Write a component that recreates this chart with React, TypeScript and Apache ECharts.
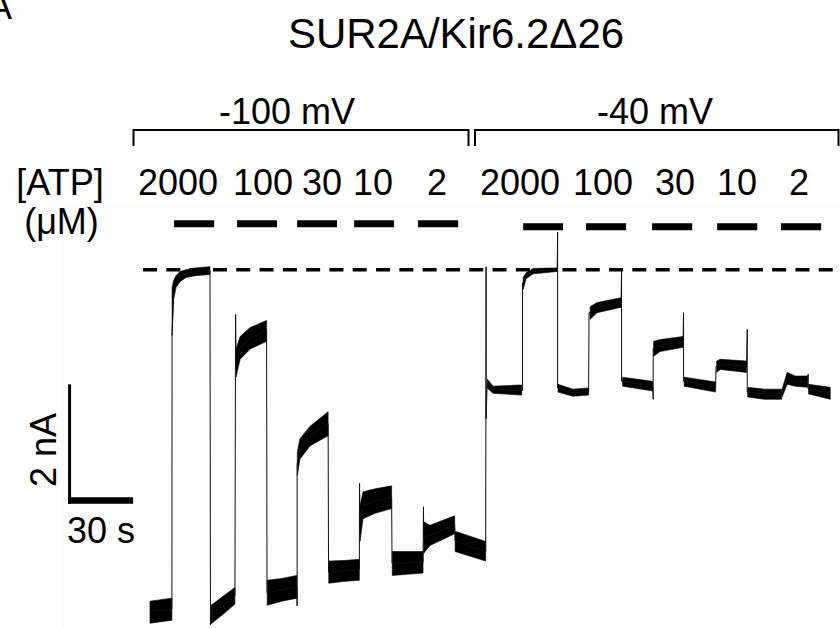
import React, { useEffect, useRef } from "react";
import * as echarts from "echarts";

const FONT = '"Liberation Sans", Arial, Helvetica, sans-serif';

const panelLabel = "A";
const chartTitle = "SUR2A/Kir6.2Δ26";
const voltageLabels = ["-100 mV", "-40 mV"];
const atpHeader = ["[ATP]", "(μM)"];
const atpLabels = ["2000", "100", "30", "10", "2"];
const scaleBarLabels = ["2 nA", "30 s"];

// axes (time in s, current in nA)
const timeRange = [-36, 323];
const currentRange = [-6, 1.1];

// ATP application periods: [start s, end s, marker level nA]
const atpPeriods: [number, number, number][] = [
  [15.7, 34.2, 0.77], [44.8, 63.2, 0.77], [72.5, 90.9, 0.77], [98.8, 117.2, 0.77], [128.3, 146.8, 0.77],
  [176.8, 195.2, 0.72], [205.8, 224.3, 0.72], [236.3, 254.8, 0.72], [266.3, 284.8, 0.72], [295.8, 314.3, 0.72],
];

// zero-current (full block) reference
const blockLevel = 0;
const blockSpan = [1.4, 320.8];

// scale bar: size [s, nA] and origin [s, nA]
const scaleBarSize = [30, 2];
const scaleBarOrigin = [-33.2, -3.92];

// mean current trace [t (s), I (nA)]
const trace: [number, number][] = [
  [4.6, -5.72], [14.7, -5.68], [14.8, -5.68], [14.8, -1.05], [15.5, -0.34], [16.6, -0.2], [18.5, -0.12],
  [21.2, -0.07], [25.4, -0.03], [32.3, -0.02], [32.5, -0.02], [32.5, -5.95], [32.8, -5.78], [38.3, -5.62],
  [43.8, -5.46], [44.1, -5.46], [44.1, -0.75], [44.3, -1.56], [46.2, -1.31], [50.8, -1.15], [58.4, -1.02],
  [58.6, -1.02], [58.6, -5.41], [65.5, -5.36], [72.4, -5.31], [72.5, -5.31], [72.5, -5.63], [72.5, -3.25],
  [72.6, -3.25], [73.8, -3.0], [78.5, -2.78], [86.8, -2.58], [87.0, -2.58], [87.0, -5.07], [94.0, -5.05],
  [101.2, -5.02], [101.3, -5.02], [101.3, -3.58], [101.5, -4.25], [102.9, -3.95], [108.5, -3.87],
  [116.1, -3.81], [116.3, -3.81], [116.3, -4.92], [123.5, -4.91], [130.6, -4.9], [130.8, -4.9],
  [130.8, -3.97], [130.9, -4.48], [133.8, -4.45], [145.2, -4.27], [145.4, -4.55], [159.5, -4.72],
  [159.7, -4.72], [159.7, 0.05], [159.7, -2.5], [160.2, -1.9], [162.9, -2.01], [176.1, -2.02],
  [176.5, -2.02], [176.5, -0.22], [176.8, -0.23], [178.2, -0.1], [181.4, -0.03], [192.5, 0], [192.7, 0],
  [192.7, 0.63], [192.7, -1.98], [192.9, -1.98], [199.8, -2.06], [207.0, -2.04], [207.2, -2.04],
  [207.2, -0.72], [207.7, -0.72], [210.9, -0.63], [222.0, -0.55], [222.2, -0.55], [222.2, 0],
  [222.2, -1.87], [222.7, -1.87], [236.5, -1.95], [236.8, -1.95], [236.8, -2.17], [236.8, -1.32],
  [237.0, -1.32], [240.0, -1.27], [250.6, -1.21], [250.8, -1.21], [250.8, -0.72], [250.8, -1.87],
  [251.1, -1.87], [265.6, -1.96], [265.8, -1.96], [265.8, -1.62], [266.1, -1.62], [267.7, -1.58],
  [279.9, -1.62], [280.2, -1.62], [280.2, -1.0], [280.2, -2.05], [280.4, -2.05], [288.0, -2.08],
  [296.1, -2.08], [296.3, -2.06], [298.6, -1.82], [302.3, -1.87], [308.1, -1.88], [308.3, -1.88],
  [308.3, -1.75], [308.3, -2.0], [308.5, -2.0], [318.5, -2.07],
];

// noise envelope of each plateau: [t (s), upper nA, lower nA]
const noiseBand: [number, number, number][][] = [
  [[4.6, -5.55, -5.92], [14.7, -5.5, -5.87]],
  [[14.8, -0.3, -1.1], [15.5, -0.18, -0.5], [16.6, -0.1, -0.3], [18.5, -0.03, -0.2], [21.2, 0, -0.13], [25.4, 0.03, -0.1], [32.3, 0.05, -0.08]],
  [[32.8, -5.62, -5.93], [38.3, -5.47, -5.77], [43.8, -5.32, -5.6]],
  [[44.3, -1.33, -1.8], [46.2, -1.12, -1.5], [50.8, -0.97, -1.33], [58.4, -0.85, -1.2]],
  [[58.7, -5.2, -5.62], [65.5, -5.17, -5.55], [72.4, -5.12, -5.5]],
  [[72.6, -3.05, -3.45], [73.8, -2.83, -3.17], [78.5, -2.62, -2.95], [86.8, -2.38, -2.78]],
  [[87.1, -4.88, -5.25], [94.0, -4.87, -5.22], [101.2, -4.85, -5.2]],
  [[101.5, -3.95, -4.55], [102.9, -3.72, -4.17], [108.5, -3.67, -4.08], [116.1, -3.62, -4.0]],
  [[116.4, -4.72, -5.12], [123.5, -4.72, -5.1], [130.6, -4.72, -5.08]],
  [[130.9, -4.22, -4.75], [133.8, -4.28, -4.62], [145.2, -4.12, -4.42]],
  [[145.4, -4.38, -4.72], [159.5, -4.55, -4.88]],
  [[160.2, -1.83, -1.98], [162.9, -1.95, -2.07], [176.1, -1.93, -2.1]],
  [[176.8, -0.13, -0.33], [178.2, -0.05, -0.15], [181.4, 0.02, -0.07], [192.5, 0.03, -0.03]],
  [[192.9, -1.92, -2.05], [199.8, -2.0, -2.12], [207.0, -1.98, -2.1]],
  [[207.7, -0.62, -0.83], [210.9, -0.55, -0.72], [222.0, -0.47, -0.63]],
  [[222.7, -1.8, -1.95], [236.5, -1.87, -2.03]],
  [[237.0, -1.2, -1.45], [240.0, -1.17, -1.37], [250.6, -1.12, -1.3]],
  [[251.1, -1.8, -1.95], [265.6, -1.88, -2.05]],
  [[266.1, -1.53, -1.72], [267.7, -1.5, -1.67], [279.9, -1.53, -1.72]],
  [[280.4, -1.97, -2.13], [288.0, -2.0, -2.17], [296.1, -2.0, -2.17]],
  [[296.3, -2.0, -2.13], [298.6, -1.72, -1.92], [302.3, -1.78, -1.95], [308.1, -1.78, -1.97]],
  [[308.5, -1.92, -2.08], [318.5, -1.97, -2.17]],
];

function text(t: string, x: number, y: number, size: number, align = "center", extra: any = {}) {
  return {
    type: "text",
    x,
    y,
    silent: true,
    ...extra,
    style: { text: t, fill: "#000", fontSize: size, fontFamily: FONT, align, verticalAlign: "middle" },
  };
}

export default function App() {
  const ref = useRef<HTMLDivElement>(null);
  useEffect(() => {
    const chart = echarts.init(ref.current!, null, { renderer: "svg" });
    const option: any = {
      animation: false,
      grid: { left: 62, top: 204, width: 778, height: 426, show: true, backgroundColor: "#fcfcfc", borderWidth: 0 },
      xAxis: { type: "value", min: timeRange[0], max: timeRange[1], show: false },
      yAxis: { type: "value", min: currentRange[0], max: currentRange[1], show: false },
      series: [
        {
          type: "custom",
          silent: true,
          z: 2,
          clip: false,
          data: noiseBand.map((seg, k) => [seg[0][0], seg[0][1], k]),
          encode: { x: 0, y: 1 },
          renderItem: (_p: any, api: any) => {
            const seg = noiseBand[api.value(2)];
            const upper = seg.map((p) => api.coord([p[0], p[1]]));
            const lower = seg.slice().reverse().map((p) => api.coord([p[0], p[2]]));
            return {
              type: "polygon",
              shape: { points: upper.concat(lower) },
              style: { fill: "#000", stroke: "#000", lineWidth: 0.6 },
            };
          },
        },
        {
          type: "line",
          silent: true,
          z: 3,
          symbol: "none",
          data: trace,
          lineStyle: { width: 1, color: "#111" },
        },
        {
          type: "line",
          silent: true,
          z: 5,
          symbol: "none",
          data: [[blockSpan[0], blockLevel], [blockSpan[1], blockLevel]],
          lineStyle: { width: 3.5, color: "#000", type: [14, 9.3] },
        },
        {
          type: "custom",
          silent: true,
          z: 5,
          clip: false,
          data: atpPeriods,
          encode: { x: [0, 1], y: 2 },
          renderItem: (_p: any, api: any) => {
            const a = api.coord([api.value(0), api.value(2)]);
            const b = api.coord([api.value(1), api.value(2)]);
            return { type: "rect", shape: { x: a[0], y: a[1] - 3.5, width: b[0] - a[0], height: 7 }, style: { fill: "#000" } };
          },
        },
        {
          type: "custom",
          silent: true,
          z: 5,
          clip: false,
          data: [scaleBarOrigin],
          encode: { x: 0, y: 1 },
          renderItem: (_p: any, api: any) => {
            const o = api.coord([api.value(0), api.value(1)]);
            const r = api.coord([api.value(0) + scaleBarSize[0], api.value(1)]);
            const t = api.coord([api.value(0), api.value(1) + scaleBarSize[1]]);
            return {
              type: "group",
              children: [
                { type: "rect", shape: { x: o[0], y: o[1] - 6.5, width: r[0] - o[0], height: 6.5 }, style: { fill: "#000" } },
                { type: "rect", shape: { x: o[0], y: t[1], width: 3, height: o[1] - t[1] }, style: { fill: "#000" } },
              ],
            };
          },
        },
      ],
      graphic: [
        text(panelLabel, 12, 6.5, 36, "right"),
        text(chartTitle, 456, 33, 42),
        text(voltageLabels[0], 287, 111, 36),
        text(voltageLabels[1], 655, 111, 36),
        {
          type: "polyline",
          silent: true,
          shape: { points: [[133.5, 146], [133.5, 130], [468.5, 130], [468.5, 146]] },
          style: { stroke: "#000", lineWidth: 2, fill: null },
        },
        {
          type: "polyline",
          silent: true,
          shape: { points: [[475, 146], [475, 130], [838.5, 130], [838.5, 146]] },
          style: { stroke: "#000", lineWidth: 2, fill: null },
        },
        text(atpHeader[0], 60, 182.5, 36),
        text(atpHeader[1], 61.5, 221.5, 36),
        text(atpLabels[0], 178, 182.5, 36),
        text(atpLabels[1], 263, 182.5, 36),
        text(atpLabels[2], 322, 182.5, 36),
        text(atpLabels[3], 373, 182.5, 36),
        text(atpLabels[4], 437, 182.5, 36),
        text(atpLabels[0], 520, 182.5, 36),
        text(atpLabels[1], 603, 182.5, 36),
        text(atpLabels[2], 675, 182.5, 36),
        text(atpLabels[3], 737, 182.5, 36),
        text(atpLabels[4], 799, 182.5, 36),
        text(scaleBarLabels[0], 43.5, 450, 36, "center", { rotation: Math.PI / 2 }),
        text(scaleBarLabels[1], 101, 530, 36),
      ],
    };
    chart.setOption(option);
    return () => chart.dispose();
  }, []);
  return (
    <div
      ref={ref}
      style={{ position: "fixed", left: 0, top: 0, width: 840, height: 628, background: "#fff" }}
    />
  );
}
